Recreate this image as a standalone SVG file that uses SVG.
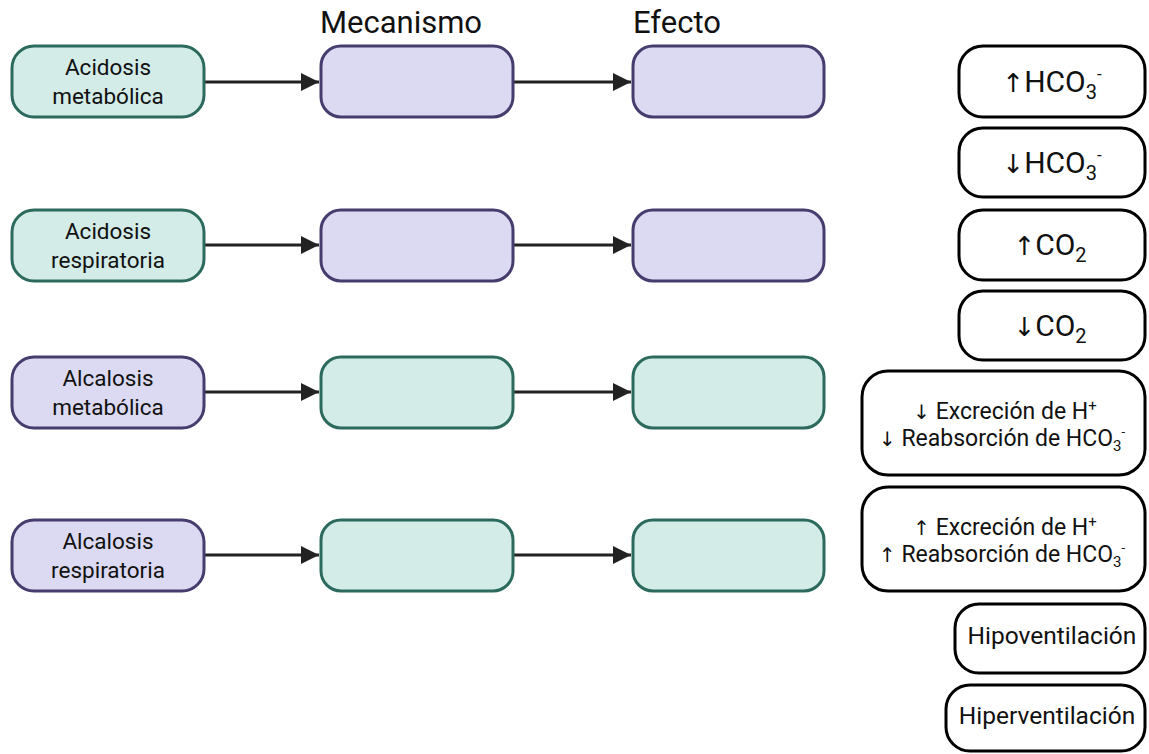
<svg xmlns="http://www.w3.org/2000/svg" width="1149" height="754" viewBox="0 0 1149 754">
<style>
text{font-family:Roboto,"Liberation Sans",sans-serif;fill:#111;text-anchor:middle}
.ar{font-family:"DejaVu Sans",sans-serif}
.teal{fill:#d3ece8;stroke:#2b6a5c;stroke-width:3}
.purp{fill:#dcdaf2;stroke:#463d6e;stroke-width:3}
.wbox{fill:#fff;stroke:#000;stroke-width:3}
.lbl{font-size:22.5px}
.hdr{font-size:31px}
.big{font-size:30px}
.mid{font-size:23px}
.vent{font-size:24.5px}
.conn line{stroke:#222;stroke-width:3}
</style>
<defs>
<marker id="ah" markerWidth="6" markerHeight="6" refX="6" refY="3" orient="auto" markerUnits="strokeWidth"><path d="M0,0 L6,3 L0,6 Z" fill="#222"/></marker>
</defs>
<rect width="1149" height="754" fill="#fff"/>
<text class="hdr" x="401" y="33">Mecanismo</text>
<text class="hdr" x="677" y="33">Efecto</text>
<g id="conns" class="conn">
<line x1="205" y1="82" x2="319" y2="82" marker-end="url(#ah)"/>
<line x1="514" y1="82" x2="631" y2="82" marker-end="url(#ah)"/>
<line x1="205" y1="245" x2="319" y2="245" marker-end="url(#ah)"/>
<line x1="514" y1="245" x2="631" y2="245" marker-end="url(#ah)"/>
<line x1="205" y1="392" x2="319" y2="392" marker-end="url(#ah)"/>
<line x1="514" y1="392" x2="631" y2="392" marker-end="url(#ah)"/>
<line x1="205" y1="555" x2="319" y2="555" marker-end="url(#ah)"/>
<line x1="514" y1="555" x2="631" y2="555" marker-end="url(#ah)"/>
</g>
<g id="n-acid-met"><rect class="teal" x="12" y="46" width="192" height="71" rx="22"/><text class="lbl" x="108" y="75">Acidosis</text><text class="lbl" x="108" y="104">metabólica</text></g>
<g id="n-mec1"><rect class="purp" x="321" y="46" width="192" height="71" rx="20"/></g>
<g id="n-ef1"><rect class="purp" x="633" y="46" width="191" height="71" rx="20"/></g>
<g id="n-acid-resp"><rect class="teal" x="12" y="210" width="192" height="71" rx="22"/><text class="lbl" x="108" y="239">Acidosis</text><text class="lbl" x="108" y="268">respiratoria</text></g>
<g id="n-mec2"><rect class="purp" x="321" y="210" width="192" height="71" rx="20"/></g>
<g id="n-ef2"><rect class="purp" x="633" y="210" width="191" height="71" rx="20"/></g>
<g id="n-alc-met"><rect class="purp" x="12" y="357" width="192" height="71" rx="22"/><text class="lbl" x="108" y="386">Alcalosis</text><text class="lbl" x="108" y="415">metabólica</text></g>
<g id="n-mec3"><rect class="teal" x="321" y="357" width="192" height="71" rx="20"/></g>
<g id="n-ef3"><rect class="teal" x="633" y="357" width="191" height="71" rx="20"/></g>
<g id="n-alc-resp"><rect class="purp" x="12" y="520" width="192" height="71" rx="22"/><text class="lbl" x="108" y="549">Alcalosis</text><text class="lbl" x="108" y="578">respiratoria</text></g>
<g id="n-mec4"><rect class="teal" x="321" y="520" width="192" height="71" rx="20"/></g>
<g id="n-ef4"><rect class="teal" x="633" y="520" width="191" height="71" rx="20"/></g>
<g id="r1"><rect class="wbox" x="959" y="46" width="186" height="71" rx="24"/><text class="big" x="1052" y="92"><tspan class="ar" font-size="26">↑</tspan>HCO<tspan font-size="20" dy="7">3</tspan><tspan font-size="17" dy="-19">-</tspan></text></g>
<g id="r2"><rect class="wbox" x="959" y="128" width="186" height="69" rx="24"/><text class="big" x="1052" y="173"><tspan class="ar" font-size="26">↓</tspan>HCO<tspan font-size="20" dy="7">3</tspan><tspan font-size="17" dy="-19">-</tspan></text></g>
<g id="r3"><rect class="wbox" x="959" y="210" width="186" height="70" rx="24"/><text class="big" x="1050" y="255"><tspan class="ar" font-size="26">↑</tspan>CO<tspan font-size="20" dy="7">2</tspan></text></g>
<g id="r4"><rect class="wbox" x="959" y="291" width="186" height="69" rx="24"/><text class="big" x="1050" y="336"><tspan class="ar" font-size="26">↓</tspan>CO<tspan font-size="20" dy="7">2</tspan></text></g>
<g id="r5"><rect class="wbox" x="862" y="371" width="283" height="104" rx="26"/><text class="mid" x="1005" y="419"><tspan class="ar" font-size="20">↓</tspan> Excreción de H<tspan font-size="15" dy="-8">+</tspan></text><text class="mid" x="1002" y="446"><tspan class="ar" font-size="20">↓</tspan> Reabsorción de HCO<tspan font-size="15" dy="5">3</tspan><tspan font-size="13" dy="-15">-</tspan></text></g>
<g id="r6"><rect class="wbox" x="862" y="487" width="283" height="104" rx="26"/><text class="mid" x="1005" y="535"><tspan class="ar" font-size="20">↑</tspan> Excreción de H<tspan font-size="15" dy="-8">+</tspan></text><text class="mid" x="1002" y="562"><tspan class="ar" font-size="20">↑</tspan> Reabsorción de HCO<tspan font-size="15" dy="5">3</tspan><tspan font-size="13" dy="-15">-</tspan></text></g>
<g id="r7"><rect class="wbox" x="955" y="604" width="190" height="69" rx="24"/><text class="vent" x="1052" y="644">Hipoventilación</text></g>
<g id="r8"><rect class="wbox" x="946" y="685" width="199" height="66" rx="24"/><text class="vent" x="1047" y="724">Hiperventilación</text></g>
</svg>
